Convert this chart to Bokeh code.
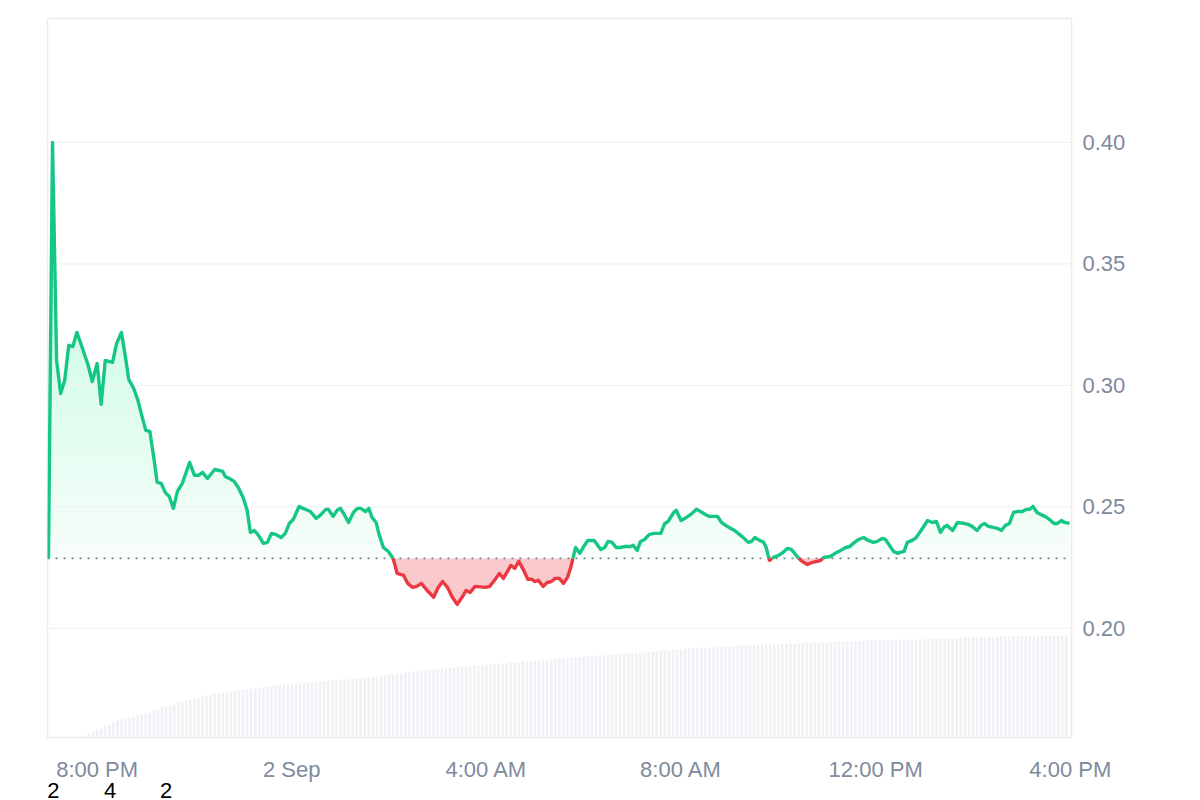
"""Price chart with open-price baseline, split green/red line and volume bars, in Bokeh"""
import numpy as np
from bokeh.embed import file_html
from bokeh.models import FixedTicker, LinearAxis, Range1d, NumeralTickFormatter
from bokeh.plotting import figure
from bokeh.resources import INLINE

# Minutes after 7:00 PM (1 Sep) and the price at that moment
minutes = [0, 5, 10, 15, 20, 25, 30, 35, 42, 49, 54, 60, 65, 70, 79, 84, 90, 95, 99, 105,
           110, 115, 120, 125, 130, 134, 139, 144, 149, 154, 159, 165, 174, 180, 185, 190, 196, 205, 215, 218,
           223, 229, 234, 240, 245, 249, 254, 259, 265, 270, 275, 280, 287, 292, 297, 302, 309, 314, 323, 330,
           335, 342, 345, 351, 356, 360, 364, 370, 376, 381, 385, 391, 395, 399, 404, 408, 413, 419, 425, 430,
           438, 443, 449, 454, 460, 467, 475, 480, 486, 492, 498, 504, 510, 515, 520, 526, 539, 544, 550, 556,
           561, 566, 570, 575, 580, 586, 591, 596, 600, 604, 610, 615, 620, 625, 630, 635, 640, 644, 647, 650,
           655, 660, 665, 673, 681, 686, 690, 695, 700, 705, 711, 718, 721, 726, 730, 735, 741, 747, 755, 760,
           764, 771, 774, 780, 785, 792, 799, 804, 810, 815, 821, 825, 830, 835, 841, 846, 852, 858, 863, 867,
           871, 875, 882, 885, 889, 894, 900, 906, 911, 916, 920, 925, 931, 936, 942, 948, 952, 956, 964, 970,
           977, 983, 988, 994, 999, 1005, 1011, 1017, 1022, 1028, 1032, 1037, 1042, 1047, 1050, 1055, 1059, 1065, 1070, 1076,
           1084, 1090, 1095, 1100, 1104, 1108, 1115, 1121, 1129, 1134, 1139, 1145, 1150, 1154, 1159, 1165, 1170, 1175, 1180, 1185,
           1190, 1195, 1201, 1206, 1210, 1214, 1219, 1226, 1229, 1234, 1240, 1244, 1249, 1253, 1259]
prices = [0.2288, 0.4000, 0.3103, 0.2967, 0.3021, 0.3165, 0.3160, 0.3218, 0.3152, 0.3082,
          0.3016, 0.3090, 0.2922, 0.3103, 0.3095, 0.3173, 0.3218, 0.3115, 0.3025, 0.2988,
          0.2942, 0.2877, 0.2815, 0.2811, 0.2700, 0.2601, 0.2597, 0.2560, 0.2543, 0.2494,
          0.2564, 0.2597, 0.2683, 0.2630, 0.2630, 0.2642, 0.2617, 0.2654, 0.2646, 0.2625,
          0.2617, 0.2605, 0.2580, 0.2539, 0.2486, 0.2395, 0.2403, 0.2383, 0.2350, 0.2354,
          0.2391, 0.2387, 0.2374, 0.2391, 0.2432, 0.2449, 0.2502, 0.2494, 0.2481, 0.2453,
          0.2465, 0.2490, 0.2490, 0.2461, 0.2486, 0.2494, 0.2473, 0.2436, 0.2477, 0.2494,
          0.2494, 0.2481, 0.2494, 0.2457, 0.2436, 0.2383, 0.2333, 0.2317, 0.2288, 0.2226,
          0.2218, 0.2185, 0.2169, 0.2173, 0.2185, 0.2156, 0.2128, 0.2165, 0.2193, 0.2169,
          0.2128, 0.2099, 0.2128, 0.2156, 0.2148, 0.2173, 0.2169, 0.2173, 0.2198, 0.2226,
          0.2206, 0.2235, 0.2259, 0.2247, 0.2276, 0.2239, 0.2202, 0.2202, 0.2193, 0.2198,
          0.2173, 0.2189, 0.2193, 0.2206, 0.2206, 0.2185, 0.2210, 0.2251, 0.2292, 0.2333,
          0.2309, 0.2337, 0.2362, 0.2362, 0.2325, 0.2333, 0.2358, 0.2354, 0.2333, 0.2333,
          0.2337, 0.2337, 0.2342, 0.2321, 0.2358, 0.2366, 0.2387, 0.2391, 0.2391, 0.2432,
          0.2440, 0.2477, 0.2486, 0.2444, 0.2453, 0.2469, 0.2490, 0.2481, 0.2469, 0.2461,
          0.2461, 0.2461, 0.2436, 0.2424, 0.2412, 0.2403, 0.2387, 0.2370, 0.2354, 0.2358,
          0.2374, 0.2366, 0.2354, 0.2333, 0.2280, 0.2292, 0.2300, 0.2313, 0.2329, 0.2325,
          0.2309, 0.2288, 0.2272, 0.2263, 0.2272, 0.2276, 0.2280, 0.2292, 0.2296, 0.2309,
          0.2321, 0.2333, 0.2337, 0.2354, 0.2366, 0.2374, 0.2362, 0.2354, 0.2358, 0.2370,
          0.2366, 0.2342, 0.2317, 0.2309, 0.2313, 0.2317, 0.2354, 0.2362, 0.2374, 0.2403,
          0.2444, 0.2436, 0.2440, 0.2395, 0.2416, 0.2424, 0.2403, 0.2436, 0.2432, 0.2428,
          0.2420, 0.2403, 0.2424, 0.2432, 0.2420, 0.2416, 0.2412, 0.2403, 0.2424, 0.2432,
          0.2477, 0.2481, 0.2481, 0.2490, 0.2490, 0.2502, 0.2477, 0.2465, 0.2461, 0.2449,
          0.2432, 0.2432, 0.2444, 0.2436, 0.2432]

# Volume, one bar per 5 minutes (one row per hour)
volume_k = [0, 0, 0, 0, 0, 0, 0, 0, 0, 2, 4, 6,
            8, 9, 11, 13, 15, 17, 18, 19, 20, 21, 22, 23,
            24, 25, 27, 28, 30, 31, 32, 33, 35, 36, 37, 38,
            39, 40, 41, 42, 43, 44, 44, 45, 46, 46, 47, 47,
            48, 48, 49, 49, 50, 50, 51, 51, 52, 52, 53, 53,
            54, 54, 54, 55, 55, 55, 56, 56, 56, 57, 57, 57,
            58, 58, 58, 59, 59, 59, 60, 60, 61, 61, 62, 62,
            63, 63, 64, 64, 65, 65, 66, 66, 67, 67, 68, 68,
            68, 69, 69, 70, 70, 70, 71, 71, 71, 72, 72, 72,
            73, 73, 73, 74, 74, 74, 75, 75, 75, 76, 76, 76,
            77, 77, 77, 78, 78, 78, 79, 79, 79, 80, 80, 80,
            81, 81, 81, 82, 82, 82, 83, 83, 83, 84, 84, 84,
            84, 85, 85, 85, 86, 86, 86, 87, 87, 87, 88, 88,
            88, 89, 89, 89, 89, 90, 90, 90, 90, 91, 91, 91,
            91, 91, 92, 92, 92, 92, 92, 93, 93, 93, 93, 93,
            93, 94, 94, 94, 94, 94, 94, 95, 95, 95, 95, 95,
            95, 95, 96, 96, 96, 96, 96, 96, 96, 97, 97, 97,
            97, 97, 97, 97, 97, 98, 98, 98, 98, 98, 98, 98,
            98, 99, 99, 99, 99, 99, 99, 99, 99, 100, 100, 100,
            100, 100, 100, 100, 100, 100, 101, 101, 101, 101, 101, 101,
            101, 101, 101, 101, 101, 102, 102, 102, 102, 102, 102, 102]
bar_step = 5  # minutes per volume bar

tick_minutes = [60, 300, 540, 780, 1020, 1260]
tick_labels = ["8:00 PM", "2 Sep", "4:00 AM", "8:00 AM", "12:00 PM", "4:00 PM"]
price_ticks = [0.20, 0.25, 0.30, 0.35, 0.40]
stray_texts = ["2", "4", "2"]
stray_minutes = [6, 76, 145]

GREEN = "#16c784"
RED = "#ea3943"
GREY = "#808a9d"
FONT = "Liberation Sans"
X0, X1 = -1.2, 1261.5

p = figure(frame_width=1024, frame_height=719, output_backend="svg", toolbar_location=None, tools="",
           x_range=Range1d(X0, X1), y_range=Range1d(0.1551, 0.4510),
           y_axis_location=None, x_axis_location=None,
           min_border_left=47, min_border_right=119, min_border_top=18, min_border_bottom=0,
           outline_line_color="#e9ecf0", outline_line_width=1.5,
           background_fill_color="white", border_fill_color="white")

# volume bars on their own scale in the bottom of the frame
p.extra_y_ranges = {"vol": Range1d(0, max(volume_k) * 7.05)}
bar_x = [i * bar_step for i in range(len(volume_k))]
p.vbar(x=bar_x, top=volume_k, width=3.2, y_range_name="vol",
       fill_color="#eff1f5", line_color=None)

t = np.array(minutes, dtype=float)
y = np.array(prices)
base = prices[0]

# insert the points where the line crosses the opening price
xa, ya = [t[0]], [y[0]]
for i in range(1, len(t)):
    d0, d1 = y[i - 1] - base, y[i] - base
    if d0 * d1 < 0:
        f = d0 / (d0 - d1)
        xa.append(t[i - 1] + f * (t[i] - t[i - 1]))
        ya.append(base)
    xa.append(t[i])
    ya.append(y[i])
xa = np.array(xa)
ya = np.array(ya)

# green fill with a vertical fade, red fill below the baseline
up = np.maximum(ya, base)
p.varea(x=xa, y1=base, y2=up, fill_color=GREEN, fill_alpha=0.04)
for lvl in np.arange(base + 0.005, 0.405, 0.005):
    p.varea(x=xa, y1=lvl, y2=np.maximum(ya, lvl), fill_color=GREEN, fill_alpha=0.006)
p.varea(x=xa, y1=base, y2=np.minimum(ya, base), fill_color=RED, fill_alpha=0.27)

# grid lines
for v in price_ticks:
    p.line(x=[X0, X1], y=[v, v], line_color="#eff2f5", line_width=1.2)

# dotted opening price
p.line(x=[X0, X1], y=[base, base], line_color="#7d848f", line_width=1.6, line_dash="2 6")

# line split into green/red runs
seg_x, seg_y, seg_c = [], [], []
for i in range(1, len(xa)):
    c = GREEN if (ya[i - 1] + ya[i]) / 2 >= base else RED
    if seg_c and seg_c[-1] == c:
        seg_x[-1].append(xa[i])
        seg_y[-1].append(ya[i])
    else:
        seg_x.append([xa[i - 1], xa[i]])
        seg_y.append([ya[i - 1], ya[i]])
        seg_c.append(c)
p.multi_line(xs=seg_x, ys=seg_y, line_color=seg_c, line_width=3.4, line_join="round")


def plain_axis(axis, standoff, color):
    axis.axis_line_color = None
    axis.major_tick_line_color = None
    axis.minor_tick_line_color = None
    axis.major_tick_out = 0
    axis.major_tick_in = 0
    axis.minor_tick_out = 0
    axis.major_label_standoff = standoff
    axis.major_label_text_font = FONT
    axis.major_label_text_font_size = "22px"
    axis.major_label_text_color = color


yaxis = LinearAxis(ticker=FixedTicker(ticks=price_ticks),
                   formatter=NumeralTickFormatter(format="0.00"))
plain_axis(yaxis, 11, GREY)
p.add_layout(yaxis, "right")

xaxis = LinearAxis(ticker=FixedTicker(ticks=tick_minutes))
xaxis.major_label_overrides = dict(zip(tick_minutes, tick_labels))
plain_axis(xaxis, 19, GREY)
p.add_layout(xaxis, "below")

# the stray digits under the time axis
xaxis2 = LinearAxis(ticker=FixedTicker(ticks=stray_minutes))
xaxis2.major_label_overrides = dict(zip(stray_minutes, stray_texts))
plain_axis(xaxis2, -2, "black")
p.add_layout(xaxis2, "below")

p.xgrid.visible = False
p.ygrid.visible = False

open("out.html", "w").write(file_html(p, INLINE))
